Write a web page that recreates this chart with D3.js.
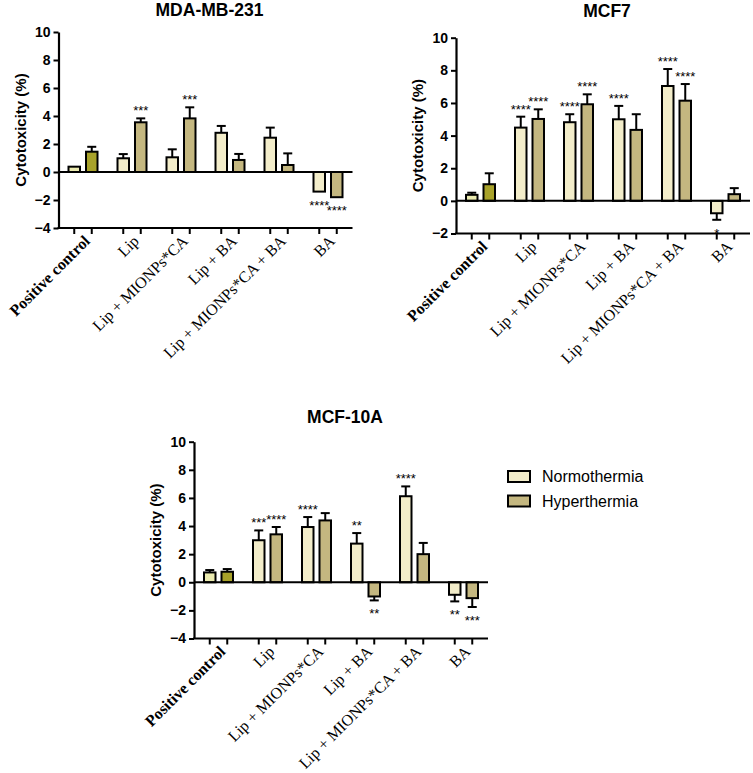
<!DOCTYPE html>
<html>
<head>
<meta charset="utf-8">
<script src="https://cdn.jsdelivr.net/npm/d3@7"></script>
<style>
  body { margin: 0; background: #fff; }
  svg { display: block; }
</style>
</head>
<body>
<svg id="chart" width="753" height="773"></svg>
<script>
// cytotoxicity bar panels
var groups = ["Positive control", "Lip", "Lip + MIONPs*CA", "Lip + BA", "Lip + MIONPs*CA + BA", "BA"];
var series = ["Normothermia", "Hyperthermia"];

// MDA-MB-231
var mdaNormo = [0.38, 0.98, 1.05, 2.8, 2.45, -1.4];
var mdaNormoErr = [0, 0.3, 0.57, 0.49, 0.72, 0];
var mdaHyper = [1.45, 3.55, 3.83, 0.86, 0.5, -1.8];
var mdaHyperErr = [0.35, 0.28, 0.79, 0.43, 0.83, 0];
var mdaNormoSig = ["", "", "", "", "", "****"];
var mdaHyperSig = ["", "***", "***", "", "", "****"];

// MCF7
var mcf7Normo = [0.37, 4.49, 4.82, 5.0, 7.04, -0.76];
var mcf7NormoErr = [0.13, 0.67, 0.49, 0.82, 1.04, 0.4];
var mcf7Hyper = [1.02, 5.02, 5.92, 4.35, 6.14, 0.41];
var mcf7HyperErr = [0.67, 0.59, 0.61, 0.96, 1.02, 0.37];
var mcf7NormoSig = ["", "****", "****", "****", "****", "*"];
var mcf7HyperSig = ["", "****", "****", "", "****", ""];

// MCF-10A
var mcf10Normo = [0.7, 2.99, 3.93, 2.75, 6.12, -0.89];
var mcf10NormoErr = [0.17, 0.7, 0.71, 0.75, 0.7, 0.47];
var mcf10Hyper = [0.75, 3.41, 4.4, -1.01, 2.0, -1.13];
var mcf10HyperErr = [0.19, 0.52, 0.52, 0.28, 0.8, 0.63];
var mcf10NormoSig = ["", "***", "****", "**", "****", "**"];
var mcf10HyperSig = ["", "****", "", "**", "", "***"];

var yTicksA = [-4, -2, 0, 2, 4, 6, 8, 10];
var yTicksB = [-2, 0, 2, 4, 6, 8, 10];

var fills = {"Normothermia": "#f3edca", "Hyperthermia": "#c4b780"};
var pcFills = {"Normothermia": "#ebebb0", "Hyperthermia": "#a8a22a"};
var sans = "'Liberation Sans', Arial, sans-serif";
var serif = "'Liberation Serif', 'Times New Roman', serif";

var svg = d3.select("#chart");

function panel(opts) {
    var g = svg.append("g");
    var x0 = d3.scaleBand().domain(groups).range([opts.left, opts.right]);
    var x1 = d3.scalePoint().domain(series).range([0, x0.bandwidth()]).padding(0.9);
    var y = d3.scaleLinear().domain([opts.yMin, 10]).range([opts.bottom, opts.top]);
    var barW = 11.5;

    var rows = [];
    groups.forEach(function(grp, i) {
        rows.push({group: grp, s: series[0], v: opts.normo[i], e: opts.normoErr[i], sig: opts.normoSig[i], i: i});
        rows.push({group: grp, s: series[1], v: opts.hyper[i], e: opts.hyperErr[i], sig: opts.hyperSig[i], i: i});
    });
    function cx(d) { return x0(d.group) + x1(d.s); }
    function tip(d) { return d.v >= 0 ? d.v + d.e : d.v - d.e; }

    // error bars first so bars sit over the stem
    var eb = g.selectAll("g.err").data(rows.filter(function(d) { return d.e > 0; }))
        .enter().append("g").attr("class", "err")
        .attr("stroke", "#000").attr("stroke-width", 2);
    eb.append("line")
        .attr("x1", cx).attr("x2", cx)
        .attr("y1", function(d) { return y(d.v); })
        .attr("y2", function(d) { return y(tip(d)); });
    eb.append("line")
        .attr("x1", function(d) { return cx(d) - 4.5; })
        .attr("x2", function(d) { return cx(d) + 4.5; })
        .attr("y1", function(d) { return y(tip(d)); })
        .attr("y2", function(d) { return y(tip(d)); });

    g.selectAll("rect.bar").data(rows).enter().append("rect")
        .attr("class", "bar")
        .attr("x", function(d) { return cx(d) - barW / 2; })
        .attr("width", barW)
        .attr("y", function(d) { return y(Math.max(0, d.v)); })
        .attr("height", function(d) { return Math.abs(y(d.v) - y(0)); })
        .attr("fill", function(d) { return d.i === 0 ? pcFills[d.s] : fills[d.s]; })
        .attr("stroke", "#000").attr("stroke-width", 2);

    g.selectAll("text.sig").data(rows.filter(function(d) { return d.sig; }))
        .enter().append("text").attr("class", "sig")
        .attr("x", cx)
        .attr("y", function(d) { return d.v >= 0 ? y(tip(d)) - 3 : y(tip(d)) + 18; })
        .attr("text-anchor", "middle")
        .style("font-family", sans).style("font-size", "13px")
        .text(function(d) { return d.sig; });

    // zero line
    g.append("line")
        .attr("x1", opts.left).attr("x2", opts.right)
        .attr("y1", y(0)).attr("y2", y(0))
        .attr("stroke", "#000").attr("stroke-width", 2);

    // y axis
    var ya = g.append("g")
        .attr("transform", "translate(" + opts.left + ",0)")
        .call(d3.axisLeft(y).tickValues(opts.yTicks).tickSize(5).tickSizeOuter(0).tickPadding(3));
    ya.select(".domain").attr("stroke-width", 2.2);
    ya.selectAll(".tick line").attr("stroke-width", 2);
    ya.selectAll(".tick text")
        .style("font-family", sans).style("font-size", "14px").style("font-weight", "bold")
        .attr("fill", "#000");

    // bottom axis with ticks under each bar
    g.append("line")
        .attr("x1", opts.left - 1).attr("x2", opts.right)
        .attr("y1", opts.bottom).attr("y2", opts.bottom)
        .attr("stroke", "#000").attr("stroke-width", 2.2);
    g.selectAll("line.xt").data(rows).enter().append("line")
        .attr("class", "xt")
        .attr("x1", cx).attr("x2", cx)
        .attr("y1", opts.bottom).attr("y2", opts.bottom + 6)
        .attr("stroke", "#000").attr("stroke-width", 2);

    g.selectAll("text.xl").data(groups).enter().append("text")
        .attr("class", "xl")
        .attr("transform", function(d) {
            var px = x0(d) + x0.bandwidth() / 2 + 8;
            var py = opts.bottom + 14;
            return "translate(" + px + "," + py + ") rotate(-45)";
        })
        .attr("text-anchor", "end")
        .style("font-family", serif).style("font-size", "16px")
        .style("font-weight", function(d, i) { return i === 0 ? "bold" : "normal"; })
        .text(function(d) { return d; });

    g.append("text")
        .attr("transform", "translate(" + (opts.left - 33) + "," + ((opts.top + opts.bottom) / 2) + ") rotate(-90)")
        .attr("text-anchor", "middle")
        .style("font-family", sans).style("font-size", "15px").style("font-weight", "bold")
        .text("Cytotoxicity (%)");

    g.append("text")
        .attr("x", (opts.left + opts.right) / 2 + 4)
        .attr("y", opts.titleY)
        .attr("text-anchor", "middle")
        .style("font-family", sans).style("font-size", "17.5px").style("font-weight", "bold")
        .text(opts.title);
}

panel({title: "MDA-MB-231", left: 58.5, right: 352.5, top: 32, bottom: 228, yMin: -4, yTicks: yTicksA, titleY: 16,
    normo: mdaNormo, normoErr: mdaNormoErr, hyper: mdaHyper, hyperErr: mdaHyperErr,
    normoSig: mdaNormoSig, hyperSig: mdaHyperSig});

panel({title: "MCF7", left: 456, right: 750, top: 37.7, bottom: 233.5, yMin: -2, yTicks: yTicksB, titleY: 17,
    normo: mcf7Normo, normoErr: mcf7NormoErr, hyper: mcf7Hyper, hyperErr: mcf7HyperErr,
    normoSig: mcf7NormoSig, hyperSig: mcf7HyperSig});

panel({title: "MCF-10A", left: 194, right: 488, top: 441.7, bottom: 638.5, yMin: -4, yTicks: yTicksA, titleY: 423,
    normo: mcf10Normo, normoErr: mcf10NormoErr, hyper: mcf10Hyper, hyperErr: mcf10HyperErr,
    normoSig: mcf10NormoSig, hyperSig: mcf10HyperSig});

// legend
var leg = svg.append("g").attr("transform", "translate(508,471)");
var li = leg.selectAll("g").data(series).enter().append("g")
    .attr("transform", function(d, i) { return "translate(0," + (i * 24.5) + ")"; });
li.append("rect")
    .attr("width", 22).attr("height", 11)
    .attr("fill", function(d) { return fills[d]; })
    .attr("stroke", "#000").attr("stroke-width", 2);
li.append("text")
    .attr("x", 34).attr("y", 11)
    .style("font-family", sans).style("font-size", "16px")
    .text(function(d) { return d; });
</script>
</body>
</html>
